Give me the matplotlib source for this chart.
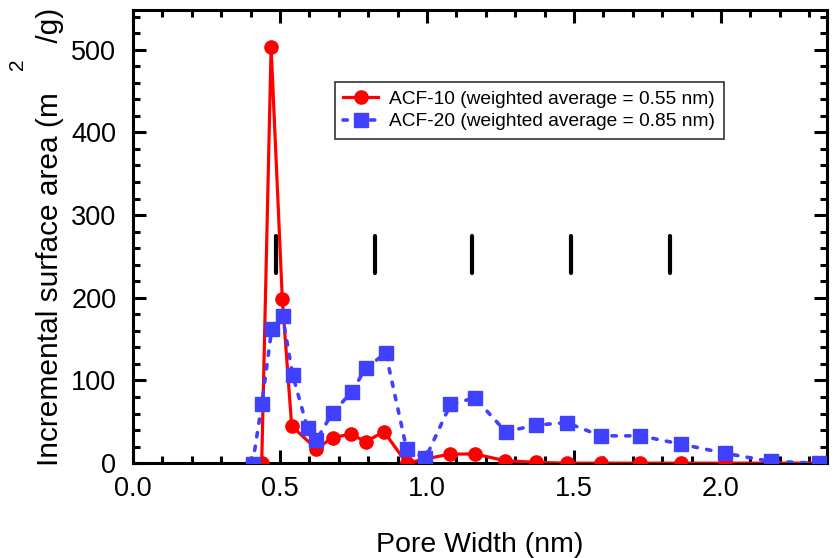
import matplotlib
matplotlib.use("Agg")
import matplotlib.pyplot as plt
from matplotlib.ticker import MultipleLocator

plt.rcParams['font.family'] = ['Liberation Sans', 'DejaVu Sans']

# ACF-10 data (pore width nm, incremental surface area m2/g)
acf10_x = [0.438, 0.470, 0.508, 0.540, 0.624, 0.679, 0.741, 0.792, 0.854, 0.931,
           0.995, 1.078, 1.163, 1.266, 1.370, 1.475, 1.591, 1.726, 1.864, 2.013, 2.169, 2.334]
acf10_y = [0, 503, 199, 45, 17, 31, 35, 26, 38, 0,
           5, 11, 11, 3, 1, 0, 0, 0, 0, 0, 0, 0]

# ACF-20 data
acf20_x = [0.407, 0.438, 0.472, 0.509, 0.543, 0.594, 0.624, 0.679, 0.744, 0.792, 0.860, 0.931,
           0.995, 1.080, 1.163, 1.268, 1.370, 1.475, 1.591, 1.726, 1.864, 2.013, 2.169, 2.334]
acf20_y = [-1, 71, 162, 178, 107, 42, 28, 61, 86, 115, 133, 17,
           6, 71, 79, 38, 46, 49, 33, 33, 23, 12, 2, 0]

# vertical reference marks
mark_x = [0.486, 0.823, 1.153, 1.489, 1.826]
mark_y = [230, 275]

labels = ['ACF-10 (weighted average = 0.55 nm)', 'ACF-20 (weighted average = 0.85 nm)']

fig = plt.figure(figsize=(8.36, 5.58), dpi=100)
ax = fig.add_axes([0.159, 0.170, 0.830, 0.812])

for mx in mark_x:
    ax.plot([mx, mx], mark_y, color='black', lw=3, solid_capstyle='round', zorder=1)

ax.plot(acf10_x, acf10_y, color='#ff0000', lw=2.3, marker='o', markersize=9.5,
        label=labels[0], zorder=3)
ax.plot(acf20_x, acf20_y, color='#4040ff', lw=2.6, linestyle=(0, (1.2, 2.6)),
        dash_capstyle='round', marker='s', markersize=10, label=labels[1], zorder=4)

ax.set_xlim(0, 2.36)
ax.set_ylim(0, 548)
ax.xaxis.set_major_locator(MultipleLocator(0.5))
ax.xaxis.set_minor_locator(MultipleLocator(0.1))
ax.yaxis.set_major_locator(MultipleLocator(100))
ax.yaxis.set_minor_locator(MultipleLocator(20))
ax.xaxis.set_major_formatter(plt.FormatStrFormatter('%.1f'))

ax.tick_params(which='both', direction='in', top=True, right=True, width=2.2,
               labelsize=19.5, colors='black')
ax.tick_params(which='major', length=9.5)
ax.tick_params(which='minor', length=5)
ax.tick_params(axis='y', which='major', pad=12)
ax.tick_params(axis='x', which='major', pad=9)
for s in ax.spines.values():
    s.set_linewidth(2.2)

ax.set_xlabel('Pore Width (nm)', fontsize=20.5, labelpad=22)
ax.set_ylabel('Incremental surface area (m      /g)', fontsize=21.5, labelpad=5)
fig.text(18 / 836, 1 - 64 / 558, '2', rotation=90, fontsize=15,
         ha='center', va='center')

leg = ax.legend(loc='upper left', bbox_to_anchor=(0.291, 0.841), fontsize=13.8,
                frameon=True, fancybox=False, edgecolor='black', numpoints=1,
                handlelength=1.8, handletextpad=0.6, labelspacing=0.25,
                borderpad=0.45, borderaxespad=0)
leg.get_frame().set_linewidth(1.2)

fig.savefig('out.png', dpi=100)
